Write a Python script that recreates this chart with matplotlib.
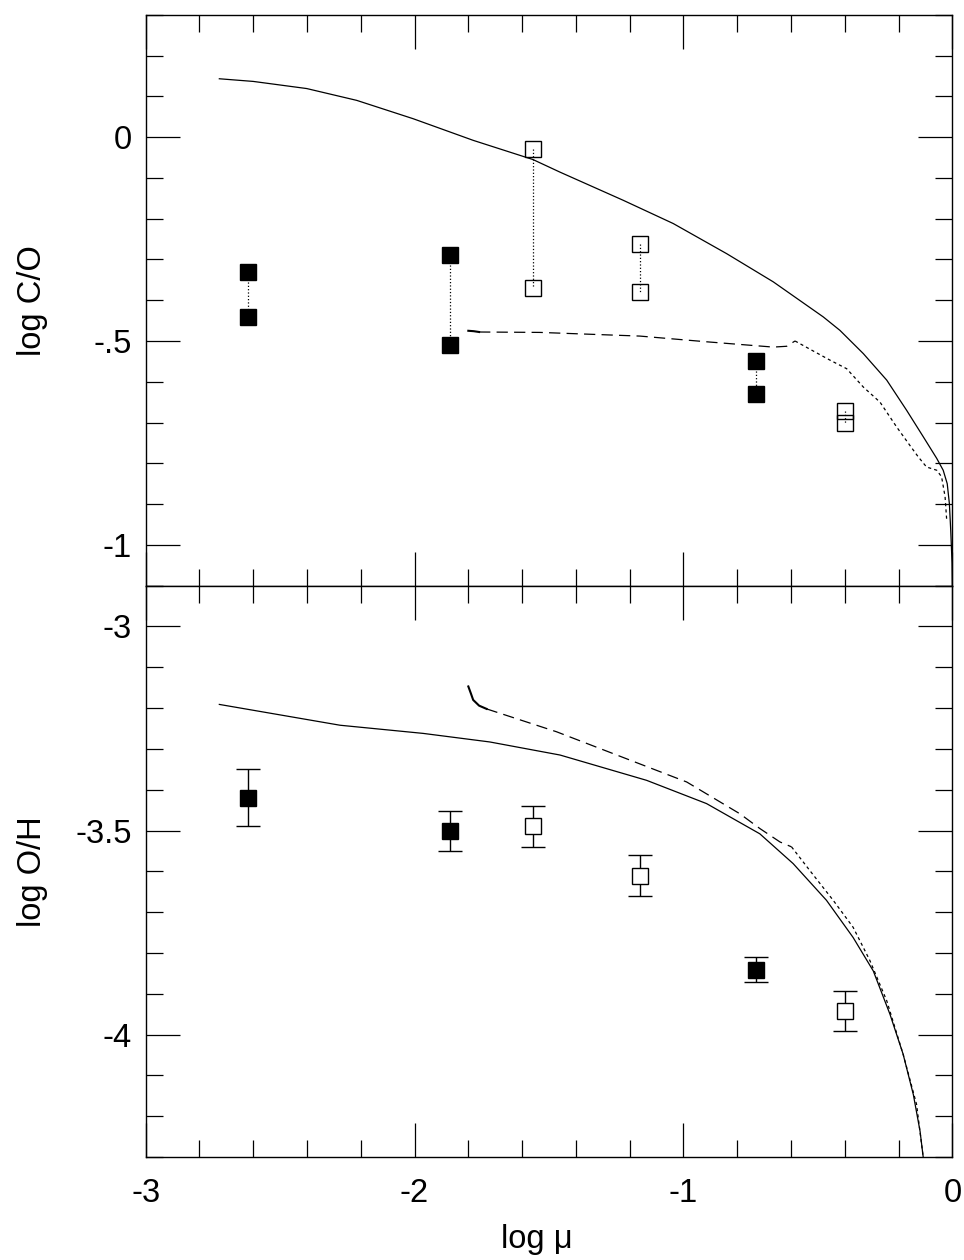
import matplotlib
matplotlib.use("Agg")
import matplotlib.pyplot as plt
from matplotlib.ticker import MultipleLocator, FixedFormatter, FixedLocator

plt.rcParams['font.family'] = ['Liberation Sans', 'DejaVu Sans']

# ---- data ----
obs_x = [-2.62, -1.868, -1.56, -1.161, -0.73, -0.40]
obs_filled = [True, True, False, False, True, False]
co_hi = [-0.331, -0.290, -0.030, -0.261, -0.550, -0.671]
co_lo = [-0.441, -0.510, -0.370, -0.381, -0.631, -0.700]
oh_val = [-3.420, -3.501, -3.490, -3.611, -3.841, -3.942]
oh_err = [0.07, 0.05, 0.05, 0.05, 0.03, 0.05]

# top panel model curves
co_solid_x = [-2.726, -2.600, -2.401, -2.215, -2.005, -1.782, -1.560, -1.459, -1.224,
              -1.038, -0.839, -0.666, -0.480, -0.418, -0.331, -0.244, -0.170, -0.108,
              -0.058, -0.034, -0.019, -0.011, -0.006, -0.001, 0.0]
co_solid_y = [0.143, 0.1365, 0.119, 0.090, 0.045, -0.008, -0.055, -0.086, -0.155,
              -0.212, -0.286, -0.355, -0.441, -0.474, -0.531, -0.596, -0.670, -0.735,
              -0.788, -0.817, -0.850, -0.899, -0.964, -1.045, -1.10]
co_dash_start_x = [-1.800, -1.780, -1.760]
co_dash_start_y = [-0.475, -0.476, -0.478]
co_dash_x = [-1.760, -1.534, -1.162, -0.914, -0.666, -0.616, -0.585]
co_dash_y = [-0.478, -0.479, -0.488, -0.502, -0.515, -0.513, -0.500]
co_dot_x = [-0.585, -0.530, -0.455, -0.393, -0.331, -0.269, -0.207, -0.158, -0.127,
            -0.096, -0.058, -0.040, -0.027, -0.021]
co_dot_y = [-0.500, -0.520, -0.547, -0.568, -0.613, -0.650, -0.711, -0.756, -0.784,
            -0.809, -0.817, -0.833, -0.882, -0.939]

# bottom panel model curves
oh_solid_x = [-2.726, -2.277, -1.968, -1.720, -1.459, -1.137, -0.914, -0.716, -0.592,
              -0.468, -0.369, -0.294, -0.232, -0.183, -0.145, -0.120, -0.108]
oh_solid_y = [-3.191, -3.242, -3.262, -3.283, -3.315, -3.377, -3.434, -3.508, -3.581,
              -3.671, -3.762, -3.844, -3.950, -4.048, -4.147, -4.237, -4.302]
oh_dash_start_x = [-1.800, -1.790, -1.782, -1.760, -1.732]
oh_dash_start_y = [-3.147, -3.165, -3.180, -3.194, -3.202]
oh_dash_x = [-1.732, -1.472, -0.988, -0.790, -0.716, -0.641, -0.598]
oh_dash_y = [-3.202, -3.258, -3.381, -3.459, -3.495, -3.528, -3.540]
oh_dot_x = [-0.598, -0.530, -0.443, -0.369, -0.307, -0.244, -0.183, -0.133, -0.108]
oh_dot_y = [-3.540, -3.598, -3.671, -3.737, -3.818, -3.917, -4.048, -4.171, -4.302]

fig = plt.figure(figsize=(9.64, 12.6), dpi=100)
L, R = 0.1511, 0.9879
ax1 = fig.add_axes([L, 0.5352, R - L, 0.9883 - 0.5352])
ax2 = fig.add_axes([L, 0.0817, R - L, 0.5352 - 0.0817], sharex=ax1)

lw = 0.9
ms = 11.5
fs = 23.5

# ---- top panel ----
ax1.plot(co_solid_x, co_solid_y, color='black', lw=lw)
ax1.plot(co_dash_start_x, co_dash_start_y, color='black', lw=1.5)
ax1.plot(co_dash_x, co_dash_y, color='black', lw=lw, linestyle=(0, (9, 5)))
ax1.plot(co_dot_x, co_dot_y, color='black', lw=lw, linestyle=(0, (2.5, 2.5)))
for x, hi, lo, f in zip(obs_x, co_hi, co_lo, obs_filled):
    ax1.plot([x, x], [hi, lo], color='black', lw=lw, linestyle=':')
    ax1.plot([x, x], [hi, lo], linestyle='none', marker='s', ms=ms,
             mfc='black' if f else 'none', mec='black', mew=1.0)

ax1.set_ylim(-1.1, 0.3)
ax1.yaxis.set_major_locator(FixedLocator([-1, -0.5, 0]))
ax1.yaxis.set_major_formatter(FixedFormatter(['-1', '-.5', '0']))
ax1.yaxis.set_minor_locator(MultipleLocator(0.1))
ax1.set_ylabel('log C/O', fontsize=fs)
ax1.yaxis.set_label_coords(-0.121, 0.5)
plt.setp(ax1.get_xticklabels(), visible=False)

# ---- bottom panel ----
ax2.plot(oh_solid_x, oh_solid_y, color='black', lw=lw)
ax2.plot(oh_dash_start_x, oh_dash_start_y, color='black', lw=1.5)
ax2.plot(oh_dash_x, oh_dash_y, color='black', lw=lw, linestyle=(0, (9, 5)))
ax2.plot(oh_dot_x, oh_dot_y, color='black', lw=lw, linestyle=(0, (2.5, 2.5)))
for x, y, e, f in zip(obs_x, oh_val, oh_err, obs_filled):
    ax2.errorbar([x], [y], yerr=[e], fmt='s', ms=ms,
                 mfc='black' if f else 'white', mec='black', mew=1.0,
                 ecolor='black', elinewidth=1.0, capsize=8.3, capthick=1.0)

ax2.set_ylim(-4.3, -2.9)
ax2.yaxis.set_major_locator(FixedLocator([-4, -3.5, -3]))
ax2.yaxis.set_major_formatter(FixedFormatter(['-4', '-3.5', '-3']))
ax2.yaxis.set_minor_locator(MultipleLocator(0.1))
ax2.set_ylabel('log O/H', fontsize=fs)
ax2.yaxis.set_label_coords(-0.121, 0.5)

ax2.set_xlim(-3, 0)
ax2.xaxis.set_major_locator(FixedLocator([-3, -2, -1, 0]))
ax2.xaxis.set_major_formatter(FixedFormatter(['-3', '-2', '-1', '0']))
ax2.xaxis.set_minor_locator(MultipleLocator(0.2))
ax2.set_xlabel('log \u03bc', fontsize=fs)
ax2.xaxis.set_label_coords(0.485, -0.117)

for ax in (ax1, ax2):
    ax.tick_params(which='both', direction='in', top=True, right=True,
                   labelsize=fs, width=0.9, color='black')
    ax.tick_params(which='major', length=24.5)
    ax.tick_params(which='minor', length=12.2)
    ax.tick_params(axis='y', which='major', pad=10)
    ax.tick_params(axis='x', which='major', pad=15)
    for s in ax.spines.values():
        s.set_linewidth(1.0)

fig.savefig('out.png', dpi=100)
